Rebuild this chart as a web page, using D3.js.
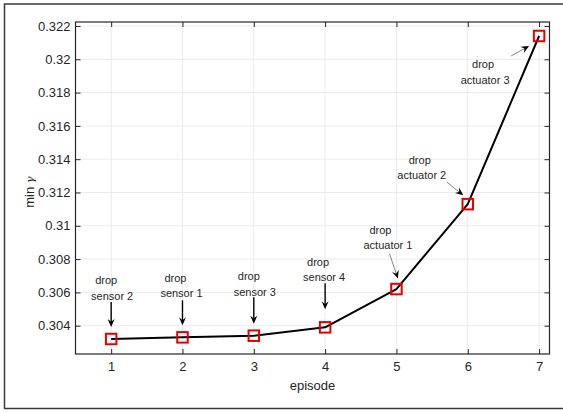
<!DOCTYPE html>
<html>
<head>
<meta charset="utf-8">
<script src="https://cdn.jsdelivr.net/npm/d3@7/dist/d3.min.js"></script>
<style>
  html, body { margin: 0; padding: 0; background: #fff; }
  svg { display: block; }
  text { font-family: "Liberation Sans", Arial, Helvetica, sans-serif; fill: #262626; }
</style>
</head>
<body>
<svg id="chart" width="563" height="412"></svg>
<script>
// Episode index and the minimum gamma reached after each drop
const episodes = [1, 2, 3, 4, 5, 6, 7];
const minGamma = [0.3032, 0.3033, 0.3034, 0.3039, 0.3062, 0.3113, 0.3214];

// Axis ticks
const xTicks = [1, 2, 3, 4, 5, 6, 7];
const yTicks = [0.304, 0.306, 0.308, 0.31, 0.312, 0.314, 0.316, 0.318, 0.32, 0.322];
const yTickLabels = ["0.304", "0.306", "0.308", "0.31", "0.312", "0.314", "0.316", "0.318", "0.32", "0.322"];

// Annotation text for each episode
const noteLines = [
  ["drop", "sensor 2"],
  ["drop", "sensor 1"],
  ["drop", "sensor 3"],
  ["drop", "sensor 4"],
  ["drop", "actuator 1"],
  ["drop", "actuator 2"],
  ["drop", "actuator 3"]
];

// Placement of each note relative to its marker (pixels):
// text line anchors and arrow start/end, plus arrow weight
const noteLayout = [
  { l1: [-5, -55], l2: [1, -39], a0: [0, -37], a1: [0, -12], heavy: true },
  { l1: [-7, -55], l2: [-1, -40], a0: [0, -37], a1: [0, -12], heavy: true },
  { l1: [-5, -56], l2: [1, -40], a0: [0, -38.5], a1: [0, -12], heavy: true },
  { l1: [-7, -61.5], l2: [-1, -46.5], a0: [0, -44], a1: [0, -18], heavy: true },
  { l1: [-16, -55], l2: [-8.5, -40], a0: [-7, -35.5], a1: [1.5, -10.5], heavy: false },
  { l1: [-48, -40.5], l2: [-46, -25.5], a0: [-21, -22], a1: [-4.5, -9], heavy: false },
  { l1: [-56, 32], l2: [-54, 48], a0: [-28, 20], a1: [-10, 10], heavy: false }
];

const svg = d3.select("#chart");

// Figure frame
svg.append("rect")
  .attr("x", 4.5).attr("y", 4)
  .attr("width", 600).attr("height", 404.5)
  .attr("fill", "none").attr("stroke", "#3a3a3a").attr("stroke-width", 1.5);

const plot = { left: 75.5, top: 22, right: 549.5, bottom: 354 };

const x = d3.scaleLinear().domain([0.5, 7.146]).range([plot.left, plot.right]);
const y = d3.scaleLinear().domain([0.3023, 0.32224]).range([plot.bottom, plot.top]);

// Grid
const grid = svg.append("g").attr("stroke", "#e6e6e6").attr("stroke-width", 0.8);
grid.selectAll(".gx").data(xTicks).join("line")
  .attr("x1", d => x(d)).attr("x2", d => x(d))
  .attr("y1", plot.top).attr("y2", plot.bottom);
grid.selectAll(".gy").data(yTicks).join("line")
  .attr("x1", plot.left).attr("x2", plot.right)
  .attr("y1", d => y(d)).attr("y2", d => y(d));

// Axes with inward ticks on all four sides
const axisStyle = g => {
  g.select(".domain").remove();
  g.selectAll(".tick line").attr("stroke", "#262626").attr("stroke-width", 1);
  g.selectAll(".tick text").attr("font-size", "13px").attr("fill", "#262626")
    .attr("font-family", "'Liberation Sans', Arial, sans-serif");
};

svg.append("g").attr("transform", `translate(0,${plot.bottom})`)
  .call(d3.axisBottom(x).tickValues(xTicks).tickFormat(d3.format("d"))
    .tickSizeInner(-5).tickSizeOuter(0).tickPadding(8))
  .call(axisStyle);
svg.append("g").attr("transform", `translate(0,${plot.top})`)
  .call(d3.axisTop(x).tickValues(xTicks).tickFormat("")
    .tickSizeInner(-5).tickSizeOuter(0))
  .call(axisStyle);
svg.append("g").attr("transform", `translate(${plot.left},0)`)
  .call(d3.axisLeft(y).tickValues(yTicks).tickFormat((d, i) => yTickLabels[i])
    .tickSizeInner(-5).tickSizeOuter(0).tickPadding(5))
  .call(axisStyle);
svg.append("g").attr("transform", `translate(${plot.right},0)`)
  .call(d3.axisRight(y).tickValues(yTicks).tickFormat("")
    .tickSizeInner(-5).tickSizeOuter(0))
  .call(axisStyle);

// Axes box
svg.append("rect")
  .attr("x", plot.left).attr("y", plot.top)
  .attr("width", plot.right - plot.left).attr("height", plot.bottom - plot.top)
  .attr("fill", "none").attr("stroke", "#262626").attr("stroke-width", 1.2);

// Axis titles
svg.append("text")
  .attr("x", (plot.left + plot.right) / 2).attr("y", 389.5)
  .attr("text-anchor", "middle").attr("font-size", "13px")
  .text("episode");

const ylab = svg.append("text")
  .attr("transform", `translate(34,${(plot.top + plot.bottom) / 2 + 4}) rotate(-90)`)
  .attr("text-anchor", "middle").attr("font-size", "13px");
ylab.append("tspan").text("min ");
ylab.append("tspan").attr("font-family", "'DejaVu Serif', serif").attr("font-style", "italic")
  .attr("font-size", "11.5px").text("γ");

// Data line and square markers
const pts = episodes.map((e, i) => [e, minGamma[i]]);
svg.append("path")
  .datum(pts)
  .attr("fill", "none").attr("stroke", "#000").attr("stroke-width", 2)
  .attr("stroke-linejoin", "round")
  .attr("d", d3.line().x(d => x(d[0])).y(d => y(d[1])));

const ms = 10.5;
svg.selectAll(".marker").data(pts).join("rect")
  .attr("x", d => x(d[0]) - ms / 2).attr("y", d => y(d[1]) - ms / 2)
  .attr("width", ms).attr("height", ms)
  .attr("fill", "none").attr("stroke", "#e50000").attr("stroke-width", 2);

// Annotations
function arrowHead(g, x0, y0, x1, y1, len, wid) {
  const ang = Math.atan2(y1 - y0, x1 - x0);
  const c = Math.cos(ang), s = Math.sin(ang);
  const P = (u, v) => [x1 + u * c - v * s, y1 + u * s + v * c];
  const pts = [P(0, 0), P(-len, wid / 2), P(-len * 0.65, 0), P(-len, -wid / 2)];
  g.append("path").attr("d", "M" + pts.map(p => p.join(",")).join("L") + "Z")
    .attr("fill", "#000").attr("stroke", "none");
}

pts.forEach((d, i) => {
  const px = x(d[0]), py = y(d[1]);
  const L = noteLayout[i];
  const g = svg.append("g");
  g.append("text").attr("x", px + L.l1[0]).attr("y", py + L.l1[1])
    .attr("text-anchor", "middle").attr("font-size", "11px").attr("fill", "#1a1a1a")
    .text(noteLines[i][0]);
  g.append("text").attr("x", px + L.l2[0]).attr("y", py + L.l2[1])
    .attr("text-anchor", "middle").attr("font-size", "11px").attr("fill", "#1a1a1a")
    .text(noteLines[i][1]);
  const x0 = px + L.a0[0], y0 = py + L.a0[1], x1 = px + L.a1[0], y1 = py + L.a1[1];
  const ang = Math.atan2(y1 - y0, x1 - x0);
  const back = 5;
  g.append("line")
    .attr("x1", x0).attr("y1", y0)
    .attr("x2", x1 - back * Math.cos(ang)).attr("y2", y1 - back * Math.sin(ang))
    .attr("stroke", L.heavy ? "#000" : "#333")
    .attr("stroke-width", L.heavy ? 1.4 : 0.6);
  arrowHead(g, x0, y0, x1, y1, 8, 7);
});
</script>
</body>
</html>
